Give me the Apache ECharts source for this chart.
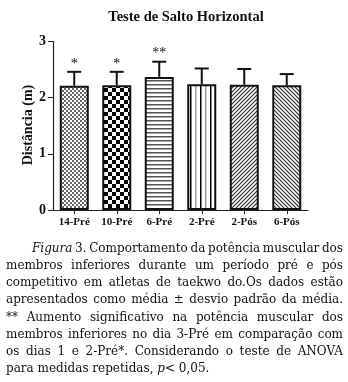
<!DOCTYPE html>
<html>
<head>
<meta charset="utf-8">
<script src="https://cdn.jsdelivr.net/npm/echarts@6/dist/echarts.min.js"></script>
<style>
  html, body { margin: 0; padding: 0; background: #fff; }
  #chart { width: 348px; height: 382px; }
</style>
</head>
<body>
<div id="chart"></div>
<script>
// dados
var categorias = ['14-Pré', '10-Pré', '6-Pré', '2-Pré', '2-Pós', '6-Pós']
var medias = [2.21, 2.22, 2.37, 2.24, 2.23, 2.22]
var desvios = [0.25, 0.24, 0.27, 0.28, 0.28, 0.20]
var asteriscos = ['*', '*', '**', '', '', '']
var yTicks = [0, 1, 2, 3]
var titulo = 'Teste de Salto Horizontal'
var nomeEixoY = 'Distância (m)'
// legenda (texto entre _ _ fica em itálico)
var legenda = [
  '_Figura_ 3. Comportamento da potência muscular dos',
  'membros inferiores durante um período pré e pós',
  'competitivo em atletas de taekwo do.Os dados estão',
  'apresentados como média ± desvio padrão da média.',
  '** Aumento significativo na potência muscular dos',
  'membros inferiores no dia 3-Pré em comparação com',
  'os dias 1 e 2-Pré*. Considerando o teste de ANOVA',
  'para medidas repetidas, _p_< 0,05.'
]

var serif = '"Liberation Serif", "DejaVu Serif", serif'
var capFont = '12px "DejaVu Serif", serif'
var capFontI = 'italic 12px "DejaVu Serif", serif'

function pattern(w, h, draw) {
  var c = document.createElement('canvas')
  c.width = w
  c.height = h
  var g = c.getContext('2d')
  g.fillStyle = '#fff'
  g.fillRect(0, 0, w, h)
  draw(g)
  return { image: c, repeat: 'repeat' }
}

var padroes = [
  pattern(4, 4, function (g) {
    g.fillStyle = '#666'
    g.fillRect(0, 0, 2, 2)
    g.fillRect(2, 2, 2, 2)
  }),
  pattern(8, 8, function (g) {
    g.fillStyle = '#000'
    g.fillRect(0, 0, 4, 4)
    g.fillRect(4, 4, 4, 4)
  }),
  pattern(4, 4, function (g) {
    g.fillStyle = '#555'
    g.fillRect(0, 0, 4, 1.5)
  }),
  pattern(10, 4, function (g) {
    g.fillStyle = '#000'
    g.fillRect(0, 0, 1.5, 4)
    g.fillStyle = '#999'
    g.fillRect(5, 0, 1.5, 4)
  }),
  pattern(4, 4, function (g) {
    g.strokeStyle = '#333'
    g.lineWidth = 1.2
    g.beginPath()
    g.moveTo(-1, 5); g.lineTo(5, -1)
    g.moveTo(-1, 1); g.lineTo(1, -1)
    g.moveTo(3, 5); g.lineTo(5, 3)
    g.stroke()
  }),
  pattern(4, 4, function (g) {
    g.strokeStyle = '#333'
    g.lineWidth = 1.2
    g.beginPath()
    g.moveTo(-1, -1); g.lineTo(5, 5)
    g.moveTo(3, -1); g.lineTo(5, 1)
    g.moveTo(-1, 3); g.lineTo(1, 5)
    g.stroke()
  })
]

var barData = []
var errData = []
for (var i = 0; i < categorias.length; i++) {
  barData.push({ value: medias[i], itemStyle: { color: padroes[i] } })
  errData.push([i, medias[i], desvios[i]])
}

// legenda justificada
var ctx = document.createElement('canvas').getContext('2d')
function runs(word) {
  var parts = word.split('_')
  var out = []
  for (var k = 0; k < parts.length; k++) {
    if (parts[k]) out.push({ t: parts[k], it: k % 2 === 1 })
  }
  return out
}
function wordWidth(r) {
  var w = 0
  r.forEach(function (p) {
    ctx.font = p.it ? capFontI : capFont
    w += ctx.measureText(p.t).width
  })
  return w
}
var graphic = []
var capLeft = 6, capRight = 343, capTop = 249, capStep = 17.1
ctx.font = capFont
var espaco = ctx.measureText(' ').width
legenda.forEach(function (linha, li) {
  var palavras = linha.split(' ').map(runs)
  var larg = palavras.map(wordWidth)
  var soma = larg.reduce(function (a, b) { return a + b }, 0)
  var x0 = li === 0 ? 32 : capLeft
  var gap = espaco
  if (li < legenda.length - 1) gap = (capRight - x0 - soma) / (palavras.length - 1)
  var x = x0
  var y = capTop + li * capStep
  palavras.forEach(function (r) {
    r.forEach(function (p) {
      graphic.push({
        type: 'text', x: x, y: y,
        style: { text: p.t, font: p.it ? capFontI : capFont, fill: '#111', verticalAlign: 'middle', align: 'left' }
      })
      ctx.font = p.it ? capFontI : capFont
      x += ctx.measureText(p.t).width
    })
    x += gap
  })
})
graphic.push({
  type: 'text', x: 28, y: 125, rotation: Math.PI / 2,
  style: { text: nomeEixoY, font: 'bold 14px ' + serif, fill: '#111', align: 'center', verticalAlign: 'middle' }
})

var chart = echarts.init(document.getElementById('chart'))
var option = {
  backgroundColor: '#fff',
  animation: false,
  title: {
    text: titulo,
    left: 181,
    top: 5,
    textAlign: 'center',
    textStyle: { fontFamily: serif, fontWeight: 'bold', fontSize: 14.5, color: '#111' }
  },
  grid: { left: 53, right: 40, top: 41.5, bottom: 172 },
  xAxis: {
    type: 'category',
    data: categorias,
    axisLine: { lineStyle: { color: '#222', width: 1.2 } },
    axisTick: { show: true, alignWithLabel: true, length: 4, lineStyle: { color: '#222' } },
    axisLabel: { fontFamily: serif, fontWeight: 'bold', fontSize: 11, color: '#111', margin: 7 }
  },
  yAxis: {
    type: 'value',
    min: yTicks[0],
    max: yTicks[yTicks.length - 1],
    interval: 1,
    axisLine: { show: true, lineStyle: { color: '#222', width: 1.2 } },
    axisTick: { show: true, length: 5, lineStyle: { color: '#222' } },
    splitLine: { show: false },
    axisLabel: { fontFamily: serif, fontWeight: 'bold', fontSize: 14, color: '#111', margin: 7 }
  },
  series: [
    {
      type: 'bar',
      barWidth: 29,
      data: barData,
      itemStyle: { borderColor: '#111', borderWidth: 2 }
    },
    {
      type: 'custom',
      z: 5,
      data: errData,
      renderItem: function (params, api) {
        var c = api.value(0)
        var m = api.value(1)
        var s = api.value(2)
        var base = api.coord([c, m])
        var top = api.coord([c, m + s])
        var star = asteriscos[params.dataIndex]
        var children = [
          { type: 'line', shape: { x1: top[0], y1: base[1], x2: top[0], y2: top[1] }, style: { stroke: '#111', lineWidth: 2 } },
          { type: 'line', shape: { x1: top[0] - 7, y1: top[1], x2: top[0] + 7, y2: top[1] }, style: { stroke: '#111', lineWidth: 2 } }
        ]
        if (star) {
          children.push({
            type: 'text',
            style: { text: star, x: top[0], y: top[1] - 8, font: '14px ' + serif, fill: '#111', align: 'center', verticalAlign: 'middle' }
          })
        }
        return { type: 'group', children: children }
      }
    }
  ],
  graphic: graphic
}
chart.setOption(option)
</script>
</body>
</html>
